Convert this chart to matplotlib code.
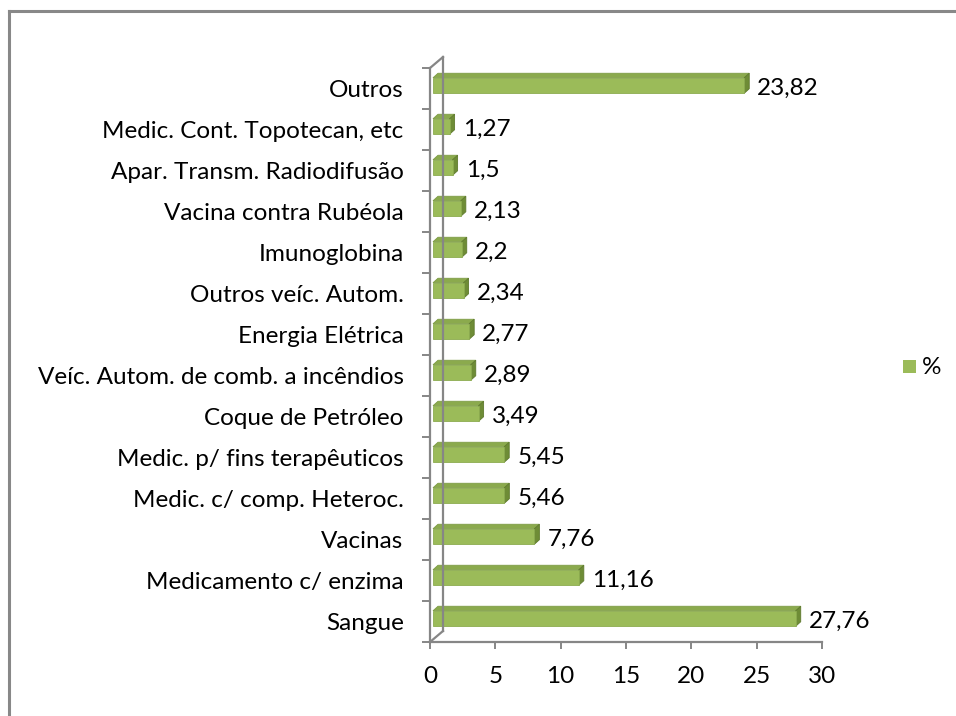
import matplotlib
matplotlib.use("Agg")
import matplotlib.pyplot as plt
from matplotlib.patches import Polygon, Rectangle
from matplotlib.lines import Line2D
from matplotlib.transforms import ScaledTranslation

categories = ["Sangue", "Medicamento c/ enzima", "Vacinas", "Medic. c/ comp. Heteroc.",
              "Medic. p/ fins terapêuticos", "Coque de Petróleo",
              "Veíc. Autom. de comb. a incêndios", "Energia Elétrica",
              "Outros veíc. Autom.", "Imunoglobina", "Vacina contra Rubéola",
              "Apar. Transm. Radiodifusão", "Medic. Cont. Topotecan, etc", "Outros"]
values = [27.76, 11.16, 7.76, 5.46, 5.45, 3.49, 2.89, 2.77, 2.34, 2.2, 2.13, 1.5, 1.27, 23.82]
xticks = [0, 5, 10, 15, 20, 25, 30]
series_name = "%"

plt.rcParams['font.family'] = ['Lato', 'DejaVu Sans']
FS = 17.5
W, H, DPI = 956, 716, 100
fig = plt.figure(figsize=(W / DPI, H / DPI), dpi=DPI)

AX_L, AX_R, AX_B, AX_T = 430, 822, 642, 68
ax = fig.add_axes([AX_L / W, 1 - AX_B / H, (AX_R - AX_L) / W, (AX_B - AX_T) / H])
ax.set_xlim(0, 30)
ax.set_ylim(-0.5, len(categories) - 0.5)
ax.patch.set_alpha(0)

gray = '#868686'
for s in ['top', 'right']:
    ax.spines[s].set_visible(False)
for s in ['left', 'bottom']:
    ax.spines[s].set_color(gray)
    ax.spines[s].set_linewidth(1.6)

ax.set_xticks(xticks)
ax.set_xticklabels([str(t) for t in xticks], fontsize=FS)
ax.tick_params(axis='x', direction='out', length=5, width=1.4, color=gray, pad=12)
ypos = list(range(len(categories)))
ax.set_yticks(ypos)
ax.set_yticklabels(categories, fontsize=FS)
ax.tick_params(axis='y', which='major', length=0, pad=19)
ax.set_yticks([i - 0.5 for i in range(len(categories) + 1)], minor=True)
ax.tick_params(axis='y', which='minor', direction='out', length=6, width=1.4, color=gray)

# back wall lines (3D wall depth)
wall = ScaledTranslation(13 / DPI, 11 / DPI, fig.dpi_scale_trans)
tb = ax.transAxes + wall
ax.add_line(Line2D([0, 0], [0, 1], transform=tb, color=gray, lw=1.6, clip_on=False))
for yv in (0, 1):
    ax.add_line(Line2D([0, 13 / (AX_R - AX_L)], [yv, yv + 11 / (AX_B - AX_T)],
                       transform=ax.transAxes, color=gray, lw=1.6, clip_on=False))

# 3D bars
px_x = 30 / (AX_R - AX_L)
px_y = len(categories) / (AX_B - AX_T)
off_x, off_y = 3 * px_x, 3 * px_y
dep_x, dep_y = 5 * px_x, 4.5 * px_y
h = 15.5 * px_y
front_c, top_c, side_c = '#9BBB59', '#8BAA4D', '#6E8C36'
for yi, v in zip(ypos, values):
    x0, x1 = off_x, v + off_x
    yb, yt = yi - h / 2 + off_y, yi + h / 2 + off_y
    ax.add_patch(Polygon([(x0, yt), (x1, yt), (x1 + dep_x, yt + dep_y), (x0 + dep_x, yt + dep_y)],
                         closed=True, facecolor=top_c, edgecolor='#7E9C45', lw=0.6, clip_on=False))
    ax.add_patch(Polygon([(x1, yb), (x1 + dep_x, yb + dep_y), (x1 + dep_x, yt + dep_y), (x1, yt)],
                         closed=True, facecolor=side_c, edgecolor='#5F7A2E', lw=0.6, clip_on=False))
    ax.add_patch(Rectangle((x0, yb), x1 - x0, yt - yb, facecolor=front_c,
                           edgecolor='#8CAB50', lw=0.6, clip_on=False))
    lab = ('%g' % v).replace('.', ',')
    ax.annotate(lab, xy=(x1, yi), xytext=(13, 0), textcoords='offset pixels',
                ha='left', va='center', fontsize=FS, annotation_clip=False)

# legend
fig.patches.append(Rectangle((903 / W, 1 - 373 / H), 13 / W, 13 / H, transform=fig.transFigure,
                             facecolor=front_c, edgecolor='none'))
fig.text(922 / W, 1 - 367 / H, series_name, fontsize=FS, ha='left', va='center')

# chart border
fig.add_artist(Line2D([9 / W, 9 / W], [0, 1 - 11 / H], transform=fig.transFigure, color='#888888', lw=2.2))
fig.add_artist(Line2D([9 / W, 1], [1 - 11 / H, 1 - 11 / H], transform=fig.transFigure, color='#888888', lw=2.2))

fig.savefig('out.png', dpi=DPI)
